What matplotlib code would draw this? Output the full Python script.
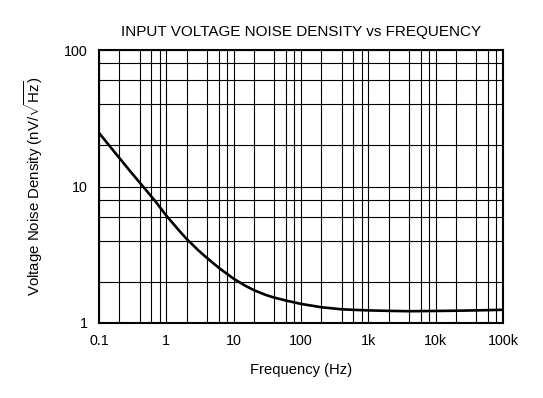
import matplotlib
matplotlib.use("Agg")
import matplotlib.pyplot as plt
from matplotlib.ticker import FixedLocator, NullFormatter, FixedFormatter

plt.rcParams['font.family'] = ['Liberation Sans', 'DejaVu Sans']
plt.rcParams['mathtext.fontset'] = 'custom'
plt.rcParams['mathtext.rm'] = 'Liberation Sans'
plt.rcParams['mathtext.it'] = 'Liberation Sans:italic'

freq = [0.1, 0.2, 0.3, 0.5, 0.7, 1, 1.5, 2, 3, 4, 6, 10, 15, 20, 30, 40, 60,
        100, 200, 400, 700, 1000, 2000, 4000, 10000, 20000, 50000, 100000]
noise = [24.7, 16.2, 12.7, 9.4, 7.7, 6.12, 4.84, 4.13, 3.40, 3.00, 2.54, 2.11,
         1.87, 1.74, 1.605, 1.535, 1.46, 1.38, 1.305, 1.26, 1.245, 1.237, 1.227,
         1.22, 1.225, 1.23, 1.24, 1.25]

x_major = [0.1, 1, 10, 100, 1000, 10000, 100000]
x_labels = ['0.1', '1', '10', '100', '1k', '10k', '100k']
y_major = [1, 10, 100]
y_labels = ['1', '10', '100']
minor_mult = [2, 4, 6, 8]

fig = plt.figure(figsize=(5.43, 3.98), dpi=100)
ax = fig.add_axes([99/543, 1-323/398, (503-99)/543, (323-50)/398])

ax.plot(freq, noise, color='black', lw=1.9, solid_capstyle='butt',
        solid_joinstyle='round')
ax.set_xscale('log')
ax.set_yscale('log')
ax.set_xlim(0.1, 100000)
ax.set_ylim(1, 100)

x_minor = [m * d for d in x_major[:-1] for m in minor_mult]
y_minor = [m * d for d in y_major[:-1] for m in minor_mult]
ax.xaxis.set_major_locator(FixedLocator(x_major))
ax.xaxis.set_major_formatter(FixedFormatter(x_labels))
ax.xaxis.set_minor_locator(FixedLocator(x_minor))
ax.xaxis.set_minor_formatter(NullFormatter())
ax.yaxis.set_major_locator(FixedLocator(y_major))
ax.yaxis.set_major_formatter(FixedFormatter(y_labels))
ax.yaxis.set_minor_locator(FixedLocator(y_minor))
ax.yaxis.set_minor_formatter(NullFormatter())

ax.grid(True, which='both', color='black', lw=0.8)
ax.tick_params(which='both', length=0, labelsize=10.3, pad=8)
for s in ax.spines.values():
    s.set_linewidth(1.5)
    s.set_zorder(5)

ax.set_title('INPUT VOLTAGE NOISE DENSITY vs FREQUENCY', fontsize=11, pad=10)
ax.set_xlabel('Frequency (Hz)', fontsize=10.6, labelpad=11)
ax.set_ylabel(r'Voltage Noise Density (nV/$\sqrt{\mathrm{Hz}}$)', fontsize=10.8,
              labelpad=14)

fig.savefig('out.png', dpi=100)
